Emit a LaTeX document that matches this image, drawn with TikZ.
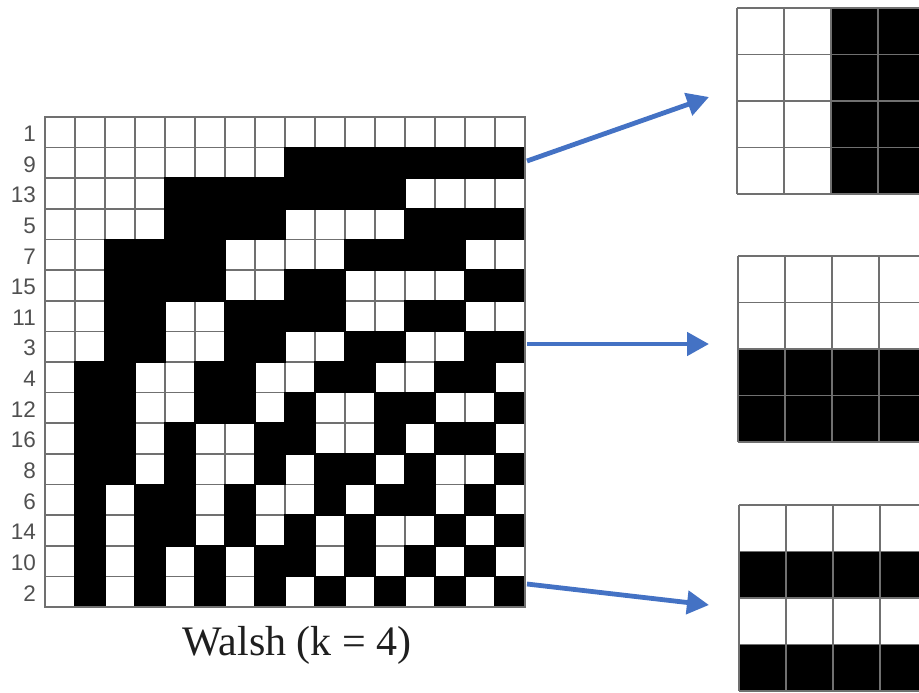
\documentclass[tikz,border=0pt]{standalone}
\usepackage{fontspec}
\setmainfont{Liberation Serif}
\newfontfamily\labelfont{Liberation Sans}
\usetikzlibrary{arrows.meta}
\definecolor{gridgray}{HTML}{707070}
\definecolor{arrowblue}{HTML}{4472C4}
\definecolor{labelgray}{HTML}{505050}

\begin{document}
\begin{tikzpicture}[x=1pt,y=-1pt,
  gridline/.style={draw=gridgray,line width=1.6pt},
  darkcell/.style={fill=black,draw=black,line width=1.6pt},
  pointer/.style={draw=arrowblue,line width=4.8pt,
    -{Triangle[length=22pt,width=23pt]}},
  rowlabel/.style={anchor=east,inner sep=0pt,text=labelgray,
    font=\labelfont\fontsize{22.5}{22.5}\selectfont},
  caption/.style={anchor=base,inner sep=0pt,text=black!88,
    font=\fontsize{42}{42}\selectfont}]
\useasboundingbox (0,0) rectangle (919,693);
\clip (0,0) rectangle (919,693);

% ---- 16 x 16 Walsh matrix, rows in the printed order ----
\def\cw{30}
\def\ch{30.625}
\begin{scope}[shift={(45,117)}]
  \fill[white] (0,0) rectangle (480,490);
  \foreach \i in {0,...,16} {
    \draw[gridline] ({\i*\cw},0) -- ({\i*\cw},490);
    \draw[gridline] (0,{\i*\ch}) -- (480,{\i*\ch});
  }
  \foreach \lab/\bits [count=\r from 0] in {
     1/{0,0,0,0,0,0,0,0,0,0,0,0,0,0,0,0},
     9/{0,0,0,0,0,0,0,0,1,1,1,1,1,1,1,1},
    13/{0,0,0,0,1,1,1,1,1,1,1,1,0,0,0,0},
     5/{0,0,0,0,1,1,1,1,0,0,0,0,1,1,1,1},
     7/{0,0,1,1,1,1,0,0,0,0,1,1,1,1,0,0},
    15/{0,0,1,1,1,1,0,0,1,1,0,0,0,0,1,1},
    11/{0,0,1,1,0,0,1,1,1,1,0,0,1,1,0,0},
     3/{0,0,1,1,0,0,1,1,0,0,1,1,0,0,1,1},
     4/{0,1,1,0,0,1,1,0,0,1,1,0,0,1,1,0},
    12/{0,1,1,0,0,1,1,0,1,0,0,1,1,0,0,1},
    16/{0,1,1,0,1,0,0,1,1,0,0,1,0,1,1,0},
     8/{0,1,1,0,1,0,0,1,0,1,1,0,1,0,0,1},
     6/{0,1,0,1,1,0,1,0,0,1,0,1,1,0,1,0},
    14/{0,1,0,1,1,0,1,0,1,0,1,0,0,1,0,1},
    10/{0,1,0,1,0,1,0,1,1,0,1,0,1,0,1,0},
     2/{0,1,0,1,0,1,0,1,0,1,0,1,0,1,0,1}} {
    \node[rowlabel] (row\lab) at (-9,{(\r+0.55)*\ch}) {\lab};
    \foreach \b [count=\c from 0] in \bits {
      \ifnum\b=1
        \path[darkcell] ({\c*\cw},{\r*\ch}) rectangle ({(\c+1)*\cw},{(\r+1)*\ch});
      \fi
    }
  }
  \draw[gridline] (0,0) rectangle (480,490);
\end{scope}

\node[caption] (title) at (297,655) {Walsh (k = 4)};

% ---- enlarged 4 x 4 patches ----
\def\sw{47}
\def\sh{46.5}
\tikzset{patchlines/.pic={
  \foreach \i in {0,...,4} {
    \draw[gridline] ({\i*\sw},0) -- ({\i*\sw},186);
    \draw[gridline] (0,{\i*\sh}) -- (188,{\i*\sh});
  }
}}
\begin{scope}[shift={(737,8)}]
  \fill[white] (0,0) rectangle (188,186);
  \fill[black] (94,0) rectangle (188,186);
  \pic {patchlines};
\end{scope}
\begin{scope}[shift={(738,256)}]
  \fill[white] (0,0) rectangle (188,186);
  \fill[black] (0,93) rectangle (188,186);
  \pic {patchlines};
\end{scope}
\begin{scope}[shift={(739,505)}]
  \fill[white] (0,0) rectangle (188,186);
  \fill[black] (0,46.5) rectangle (188,93);
  \fill[black] (0,139.5) rectangle (188,186);
  \pic {patchlines};
\end{scope}

% ---- pointers from rows to patches ----
\coordinate (fromA) at (527,161);
\coordinate (toA) at (709,97);
\coordinate (fromB) at (527,344);
\coordinate (toB) at (709,344);
\coordinate (fromC) at (527,584);
\coordinate (toC) at (709,605);
\draw[pointer] (fromA) -- (toA);
\draw[pointer] (fromB) -- (toB);
\draw[pointer] (fromC) -- (toC);
\end{tikzpicture}
\end{document}
